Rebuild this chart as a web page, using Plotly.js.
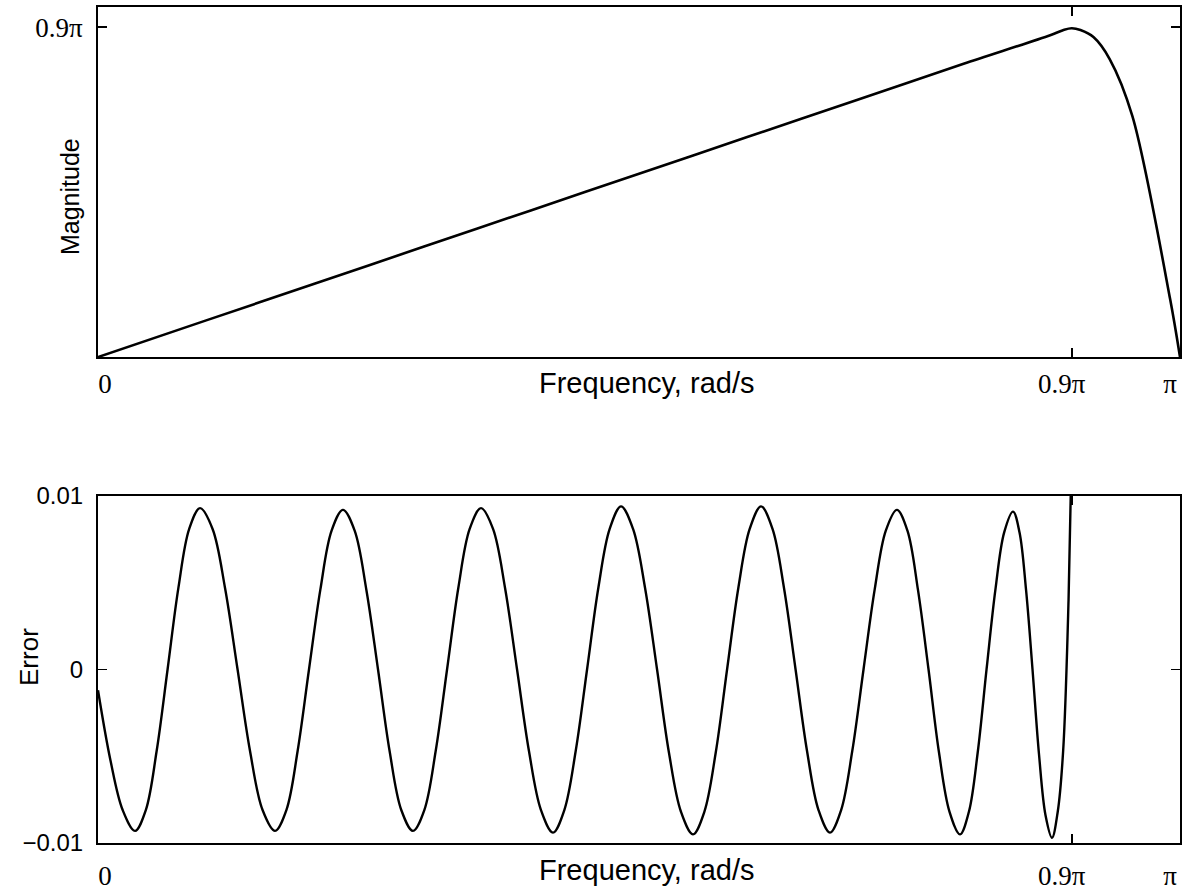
<!DOCTYPE html>
<html>
<head>
<meta charset="utf-8">
<script src="https://cdn.plot.ly/plotly-3.0.1.min.js"></script>
<style>
  html, body { margin: 0; padding: 0; background: #ffffff; }
  #chart { width: 1184px; height: 895px; }
</style>
</head>
<body>
<div id="chart"></div>
<script>
// Frequencies are stored in multiples of pi (0 .. 1 means 0 .. pi rad/s).

// Magnitude response of the differentiator (magnitude also in multiples of pi)
const magFreq = [0, 0.1, 0.2, 0.3, 0.4, 0.5, 0.6, 0.7, 0.8, 0.88, 0.893, 0.9, 0.908,
                 0.92, 0.935, 0.956, 0.991, 1.0];
const magValue = [0, 0.1, 0.2, 0.3, 0.4, 0.5, 0.6, 0.7, 0.8, 0.878, 0.893, 0.897, 0.892,
                  0.873, 0.813, 0.657, 0.156, 0];

// Approximation error over the passband 0 .. 0.9 pi
const errFreq = [0, 0.0114, 0.0228, 0.0342,
  0.0442, 0.0542, 0.0643, 0.0743, 0.0843, 0.0943,
  0.1059, 0.1174, 0.1290, 0.1405, 0.1521, 0.1636,
  0.1741, 0.1845, 0.1950, 0.2055, 0.2159, 0.2264,
  0.2372, 0.2480, 0.2588, 0.2695, 0.2803, 0.2911,
  0.3016, 0.3121, 0.3226, 0.3330, 0.3435, 0.3540,
  0.3651, 0.3762, 0.3873, 0.3983, 0.4094, 0.4205,
  0.4310, 0.4415, 0.4520, 0.4624, 0.4729, 0.4834,
  0.4945, 0.5056, 0.5167, 0.5277, 0.5388, 0.5499,
  0.5604, 0.5709, 0.5814, 0.5918, 0.6023, 0.6128,
  0.6234, 0.6340, 0.6447, 0.6553, 0.6659, 0.6765,
  0.6868, 0.6971, 0.7075, 0.7178, 0.7281, 0.7384,
  0.7481, 0.7578, 0.7676, 0.7773, 0.7870, 0.7967,
  0.8049, 0.8130, 0.8212, 0.8294, 0.8375, 0.8457,
  0.8517, 0.8577, 0.8637, 0.8697, 0.8757, 0.8817,
  0.8870, 0.8920, 0.8970, 0.8990, 0.9000];
const errValue = [-0.0012, -0.0052, -0.0081, -0.0093,
  -0.0081, -0.0047, 0, 0.0047, 0.0081, 0.0093,
  0.0081, 0.0047, 0, -0.0047, -0.0081, -0.0093,
  -0.0081, -0.0047, 0, 0.0046, 0.0080, 0.0092,
  0.0080, 0.0046, 0, -0.0047, -0.0081, -0.0093,
  -0.0081, -0.0047, 0, 0.0047, 0.0081, 0.0093,
  0.0081, 0.0047, 0, -0.0047, -0.0081, -0.0094,
  -0.0081, -0.0047, 0, 0.0047, 0.0081, 0.0094,
  0.0081, 0.0047, 0, -0.0048, -0.0082, -0.0095,
  -0.0082, -0.0048, 0, 0.0047, 0.0081, 0.0094,
  0.0081, 0.0047, 0, -0.0047, -0.0081, -0.0094,
  -0.0081, -0.0047, 0, 0.0046, 0.0080, 0.0092,
  0.0080, 0.0046, 0, -0.0048, -0.0082, -0.0095,
  -0.0082, -0.0048, 0, 0.0046, 0.0079, 0.0091,
  0.0079, 0.0046, 0, -0.0049, -0.0084, -0.0097,
  -0.0082, -0.0047, 0.0040, 0.0100, 0.0130];

// Tick positions and labels (non-breaking spaces nudge the "0" label right)
const NB = '\u00a0';
const freqTicks = [0, 0.9, 1];
const freqTickText = [NB + NB + NB + NB + NB + '0', '0.9π', 'π'];
const magTicks = [0.9];
const magTickText = ['0.9π'];
const errTicks = [-0.01, 0, 0.01];
const errTickText = ['−0.01', '0', '0.01'];

const serif = 'Liberation Serif, Times New Roman, serif';
const sans = 'Liberation Sans, Arial, Helvetica, sans-serif';

const traces = [
  {
    x: magFreq, y: magValue, xaxis: 'x', yaxis: 'y',
    type: 'scatter', mode: 'lines',
    line: { color: '#000000', width: 2.6, shape: 'spline', smoothing: 0.9 },
    hoverinfo: 'skip'
  },
  {
    x: errFreq, y: errValue, xaxis: 'x2', yaxis: 'y2',
    type: 'scatter', mode: 'lines',
    line: { color: '#000000', width: 2.4, shape: 'spline', smoothing: 1 },
    hoverinfo: 'skip'
  }
];

const axisCommon = {
  showline: true, linecolor: '#000000', linewidth: 2,
  mirror: 'ticks', ticks: 'inside', ticklen: 9, tickwidth: 1.5, tickcolor: '#000000',
  showgrid: false, zeroline: false, fixedrange: true,
  ticklabeloverflow: 'allow'
};

const layout = {
  width: 1184, height: 895,
  margin: { l: 98, r: 4, t: 7, b: 52 },
  paper_bgcolor: '#ffffff', plot_bgcolor: '#ffffff',
  showlegend: false,
  xaxis: Object.assign({}, axisCommon, {
    anchor: 'y', domain: [0, 1], range: [0, 1],
    tickmode: 'array', tickvals: freqTicks, ticktext: freqTickText,
    tickfont: { family: serif, size: 27, color: '#000000' },
    ticklabelstandoff: 2, ticklabelshift: -10
  }),
  yaxis: Object.assign({}, axisCommon, {
    anchor: 'x', domain: [0.5813, 1], range: [0, 3 / Math.PI],
    tickmode: 'array', tickvals: magTicks, ticktext: magTickText,
    tickfont: { family: serif, size: 27, color: '#000000' },
    ticklabelstandoff: 8
  }),
  xaxis2: Object.assign({}, axisCommon, {
    anchor: 'y2', domain: [0, 1], range: [0, 1],
    tickmode: 'array', tickvals: freqTicks, ticktext: freqTickText,
    tickfont: { family: serif, size: 27, color: '#000000' },
    ticklabelstandoff: 8, ticklabelshift: -10
  }),
  yaxis2: Object.assign({}, axisCommon, {
    anchor: 'x2', domain: [0, 0.4151], range: [-0.01, 0.01],
    tickmode: 'array', tickvals: errTicks, ticktext: errTickText,
    tickfont: { family: sans, size: 24, color: '#000000' },
    ticklabelstandoff: 8
  }),
  annotations: [
    { text: 'Frequency, rad/s', xref: 'paper', yref: 'paper', x: 0.507, y: 0.5813,
      yshift: -26, xanchor: 'center', yanchor: 'middle', showarrow: false,
      font: { family: sans, size: 29, color: '#000000' } },
    { text: 'Frequency, rad/s', xref: 'paper', yref: 'paper', x: 0.507, y: 0,
      yshift: -27, xanchor: 'center', yanchor: 'middle', showarrow: false,
      font: { family: sans, size: 29, color: '#000000' } },
    { text: 'Magnitude', xref: 'paper', yref: 'paper', x: 0, y: 0.7727,
      xshift: -28, textangle: -90, xanchor: 'center', yanchor: 'middle', showarrow: false,
      font: { family: sans, size: 25, color: '#000000' } },
    { text: 'Error', xref: 'paper', yref: 'paper', x: 0, y: 0.2225,
      xshift: -69, textangle: -90, xanchor: 'center', yanchor: 'middle', showarrow: false,
      font: { family: sans, size: 26, color: '#000000' } }
  ]
};

Plotly.newPlot('chart', traces, layout, { staticPlot: true, displayModeBar: false });
</script>
</body>
</html>
